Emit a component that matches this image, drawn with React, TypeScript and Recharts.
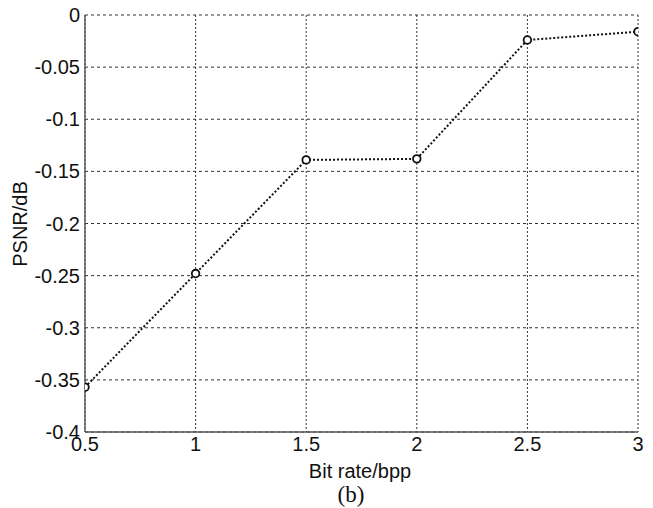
import React from "react";
import {
  LineChart,
  Line,
  XAxis,
  YAxis,
  CartesianGrid,
} from "recharts";

const bitRates = [0.5, 1, 1.5, 2, 2.5, 3];
const psnrDiff = [-0.357, -0.248, -0.139, -0.138, -0.024, -0.016];
const xTicks = [0.5, 1, 1.5, 2, 2.5, 3];
const yTicks = [-0.4, -0.35, -0.3, -0.25, -0.2, -0.15, -0.1, -0.05, 0];

const data = bitRates.map((x, i) => ({ x, y: psnrDiff[i] }));

const FONT = "'Liberation Sans', Arial, sans-serif";
const AXIS = "#555555";
const tickStyle = { fill: "#111111", fontSize: 20, fontFamily: FONT };

const Marker = (props: any) => {
  const { cx, cy } = props;
  if (cx == null || cy == null) return null;
  return <circle cx={cx} cy={cy} r={3.8} fill="#ffffff" stroke="#111111" strokeWidth={1.8} />;
};

export default function App() {
  return (
    <div style={{ position: "absolute", left: 0, top: 0, width: 653, height: 508, background: "#ffffff" }}>
      <LineChart
        width={653}
        height={508}
        data={data}
        margin={{ top: 15, right: 15, bottom: 0, left: 0 }}
      >
        <CartesianGrid horizontal={true} vertical={false} stroke="#333333" strokeDasharray="3 3" />
        <CartesianGrid horizontal={false} vertical={true} stroke="#333333" strokeDasharray="2 2" />
        <XAxis
          dataKey="x"
          type="number"
          domain={[0.5, 3]}
          ticks={xTicks}
          height={76}
          tickSize={0}
          tickMargin={5}
          stroke={AXIS}
          strokeWidth={1.4}
          tick={tickStyle}
          interval={0}
          allowDataOverflow
        />
        <XAxis
          xAxisId="top"
          dataKey="x"
          type="number"
          orientation="top"
          domain={[0.5, 3]}
          height={0}
          tick={false}
          tickLine={false}
          stroke={AXIS}
          strokeWidth={1.4}
        />
        <YAxis
          type="number"
          domain={[-0.4, 0]}
          ticks={yTicks}
          width={85}
          tickSize={0}
          tickMargin={5}
          stroke={AXIS}
          strokeWidth={1.4}
          tick={tickStyle}
          interval={0}
          allowDataOverflow
        />
        <YAxis
          yAxisId="right"
          type="number"
          orientation="right"
          domain={[-0.4, 0]}
          width={0}
          tick={false}
          tickLine={false}
          stroke={AXIS}
          strokeWidth={1.4}
        />
        <Line
          type="linear"
          dataKey="y"
          stroke="#111111"
          strokeWidth={2}
          strokeDasharray="2 2"
          dot={<Marker />}
          activeDot={false}
          isAnimationActive={false}
        />
        <text x={360} y={478} textAnchor="middle" fontSize={20} fontFamily={FONT} fill="#111111">
          Bit rate/bpp
        </text>
        <text
          x={27}
          y={224}
          textAnchor="middle"
          fontSize={20}
          fontFamily={FONT}
          fill="#111111"
          transform="rotate(-90 27 224)"
        >
          PSNR/dB
        </text>
        <text x={351} y={502} textAnchor="middle" fontSize={23} fontFamily="'Liberation Serif', 'Times New Roman', serif" fill="#111111">
          (b)
        </text>
      </LineChart>
    </div>
  );
}
